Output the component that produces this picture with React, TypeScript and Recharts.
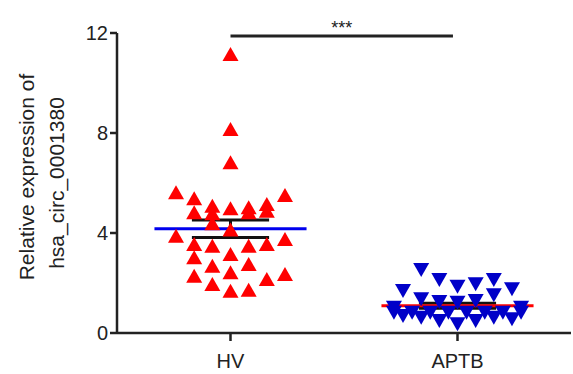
import { ScatterChart, Scatter, XAxis, YAxis, ReferenceLine, Label } from "recharts";

const GROUPS = ["HV", "APTB"];
const Y_TICKS = [0, 4, 8, 12];

// jitter offsets (category units) and values
const HV_OFFSETS = [0, 0, 0, -0.24, 0.24, -0.16, -0.08, 0, 0.08, 0.16, -0.16, -0.08, 0.08, 0.16, -0.08, 0, -0.24, 0.24, -0.16, -0.08, 0.08, 0.16, 0, -0.16, 0.08, -0.08, 0, -0.16, 0.24, 0.16, -0.08, 0, 0.08];
const HV_VALUES = [11.12, 8.12, 6.79, 5.59, 5.48, 5.35, 5.05, 4.95, 4.99, 5.12, 4.79, 4.75, 4.79, 4.85, 4.35, 4.1, 3.85, 3.72, 3.52, 3.45, 3.45, 3.52, 3.12, 2.99, 2.72, 2.65, 2.39, 2.25, 2.32, 2.12, 1.92, 1.65, 1.69];

const APTB_OFFSETS = [-0.16, -0.08, 0, 0.08, 0.16, -0.24, 0.24, 0.16, -0.16, -0.08, 0, 0.08, -0.28, 0.28, -0.24, -0.16, -0.08, 0, 0.08, 0.16, 0.24, -0.28, -0.2, -0.12, -0.04, 0.04, 0.12, 0.2, 0.28];
const APTB_VALUES = [2.56, 2.16, 1.89, 1.99, 2.16, 1.72, 1.79, 1.55, 1.39, 1.28, 1.25, 1.32, 1.05, 1.05, 0.72, 0.65, 0.52, 0.39, 0.52, 0.65, 0.59, 0.85, 0.85, 0.85, 0.85, 0.85, 0.85, 0.85, 0.85];

const MEANS = [4.17, 1.09];
const SEMS = [0.35, 0.1];
const MEAN_COLORS = ["#0000ee", "#ff0000"];
const SIG_Y = 11.88;

const hvPoints = HV_VALUES.map((v, i) => ({ x: 1 + HV_OFFSETS[i], y: v }));
const aptbPoints = APTB_VALUES.map((v, i) => ({ x: 2 + APTB_OFFSETS[i], y: v }));

const FONT = "'Liberation Sans', Arial, Helvetica, sans-serif";
const AXIS = "#222";

const TriUp = (props: any) => {
  const { cx, cy } = props;
  return <polygon points={`${cx},${cy - 8} ${cx - 8},${cy + 6} ${cx + 8},${cy + 6}`} fill="#ff0000" />;
};

const TriDown = (props: any) => {
  const { cx, cy } = props;
  return <polygon points={`${cx - 8},${cy - 6} ${cx + 8},${cy - 6} ${cx},${cy + 8}`} fill="#0000c8" />;
};

const YLabel = () => (
  <g fontFamily={FONT} fontSize={21} fill="#222">
    <text x={34} y={177} textAnchor="middle" transform="rotate(-90, 34, 177)">
      Relative expression of
    </text>
    <text x={64} y={183} textAnchor="middle" transform="rotate(-90, 64, 183)">
      hsa_circ_0001380
    </text>
  </g>
);

export default function App() {
  return (
    <div style={{ position: "absolute", left: 0, top: 0, background: "#fff" }}>
      <ScatterChart width={573} height={374} margin={{ top: 33, right: 2, bottom: 0, left: 0 }}>
        <XAxis
          type="number"
          dataKey="x"
          domain={[0.5, 2.5]}
          ticks={[1, 2]}
          tickFormatter={(v) => GROUPS[v - 1]}
          height={41}
          stroke={AXIS}
          strokeWidth={2.5}
          tickSize={8}
          tickMargin={13}
          tick={{ fill: "#222", fontSize: 20, fontFamily: FONT }}
        />
        <YAxis
          type="number"
          dataKey="y"
          domain={[0, 12]}
          ticks={Y_TICKS}
          width={117}
          stroke={AXIS}
          strokeWidth={2.5}
          tickSize={7}
          tickMargin={2}
          tick={{ fill: "#222", fontSize: 20, fontFamily: FONT }}
        >
          <Label content={<YLabel />} />
        </YAxis>
        <Scatter data={hvPoints} shape={<TriUp />} isAnimationActive={false} />
        <Scatter data={aptbPoints} shape={<TriDown />} isAnimationActive={false} />
        {MEANS.map((m, i) => (
          <ReferenceLine
            key={`err-${i}`}
            segment={[{ x: i + 1, y: m - SEMS[i] }, { x: i + 1, y: m + SEMS[i] }]}
            stroke="#111"
            strokeWidth={3}
          />
        ))}
        {MEANS.map((m, i) => (
          <ReferenceLine
            key={`capu-${i}`}
            segment={[{ x: i + 1 - 0.17, y: m + SEMS[i] }, { x: i + 1 + 0.17, y: m + SEMS[i] }]}
            stroke="#111"
            strokeWidth={3}
          />
        ))}
        {MEANS.map((m, i) => (
          <ReferenceLine
            key={`capl-${i}`}
            segment={[{ x: i + 1 - 0.17, y: m - SEMS[i] }, { x: i + 1 + 0.17, y: m - SEMS[i] }]}
            stroke="#111"
            strokeWidth={3}
          />
        ))}
        {MEANS.map((m, i) => (
          <ReferenceLine
            key={`mean-${i}`}
            segment={[{ x: i + 1 - 0.335, y: m }, { x: i + 1 + 0.335, y: m }]}
            stroke={MEAN_COLORS[i]}
            strokeWidth={3}
          />
        ))}
        <ReferenceLine
          segment={[{ x: 1, y: SIG_Y }, { x: 1.98, y: SIG_Y }]}
          stroke="#222"
          strokeWidth={3}
        >
          <Label value="***" position="top" offset={2} fontSize={18} fontFamily={FONT} fill="#222" />
        </ReferenceLine>
      </ScatterChart>
    </div>
  );
}
